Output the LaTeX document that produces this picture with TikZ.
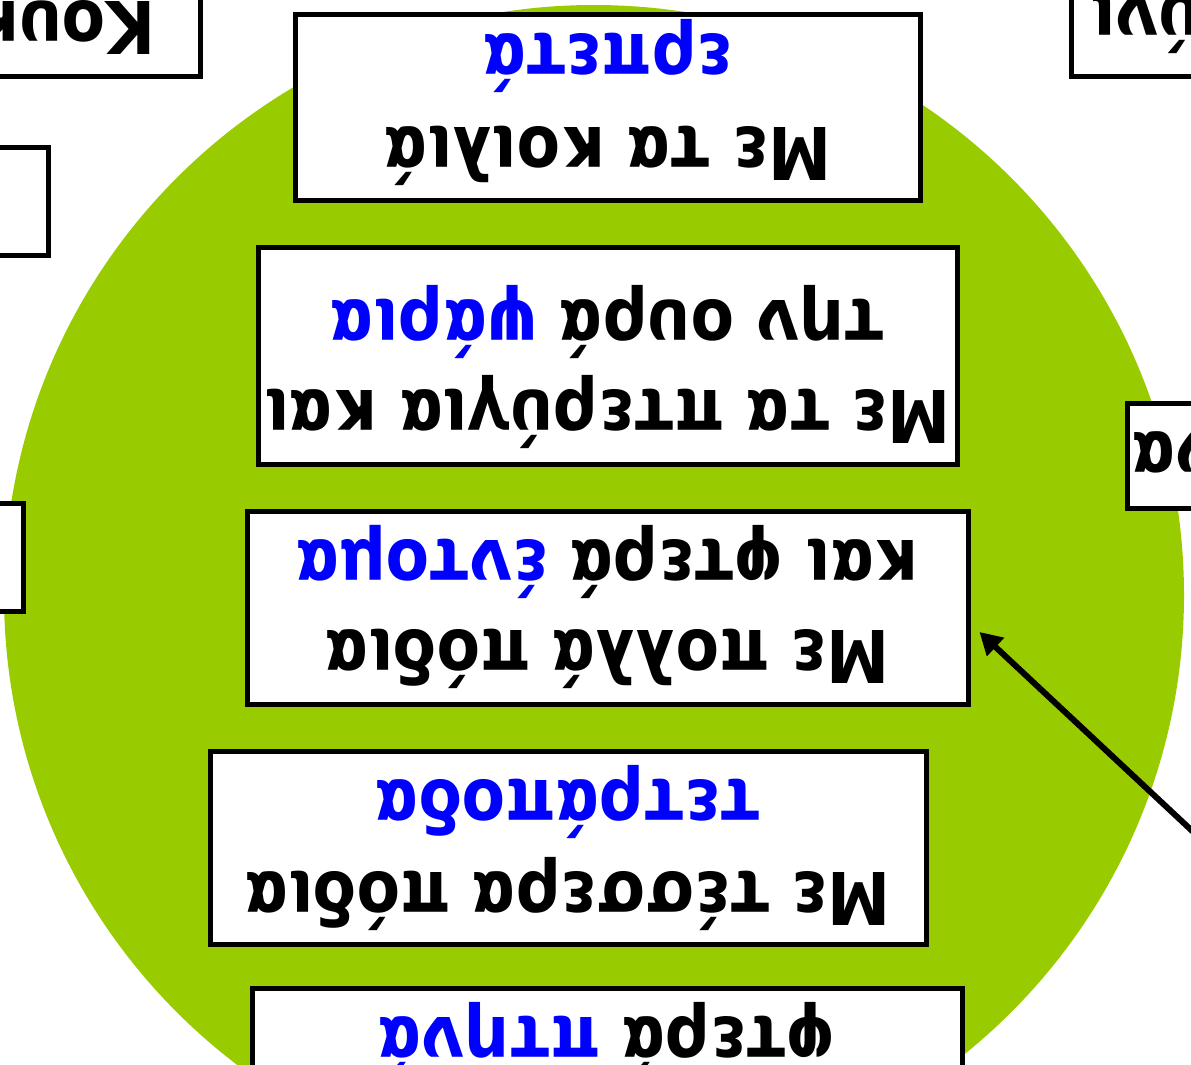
\documentclass[tikz,border=0pt]{standalone}
\usepackage{fontspec}
\newfontfamily\cardfont[FakeStretch=0.87]{DejaVu Sans}
\usetikzlibrary{arrows.meta}
\definecolor{leaf}{HTML}{99CC00}
\newcommand{\taxon}[1]{\textcolor{blue}{#1}}
\tikzset{
    card/.style={draw=black,line width=5pt,fill=white,inner sep=0pt,outer sep=0pt},
    words/.style={rotate=180,anchor=base,inner sep=0pt,outer sep=0pt,
        font=\cardfont\bfseries\fontsize{72.7}{92}\selectfont},
    pointer/.style={line width=6pt,-{Triangle[length=22pt,width=24pt]}}
}
\begin{document}
\begin{tikzpicture}[x=1pt,y=-1pt]
    \useasboundingbox (0,0) rectangle (1191,1065);
    \clip (0,0) rectangle (1191,1065);
    \fill[leaf] (594,595) circle[radius=590pt];
    % boxes cut by the edges
    \node[card,anchor=south east,minimum width=300pt,minimum height=150pt] (owlbox) at (200,76.5) {};
    \node[card,anchor=south west,minimum width=300pt,minimum height=150pt] (pigbox) at (1071,76.5) {};
    \node[card,anchor=north west,minimum width=300pt,minimum height=105pt] (turtlebox) at (1127.5,403) {};
    \node[card,anchor=east,minimum width=200pt,minimum height=108pt] (leftbox) at (48,201) {};
    \node[card,anchor=east,minimum width=200pt,minimum height=108pt] (lowbox) at (23,557) {};
    \node[words,anchor=base west] (owl) at (155,2) {Κουκουβάγια};
    \node[words,anchor=base east] (pig) at (1091,-4) {Γουρούνι};
    \node[words,anchor=base east] (turtle) at (1132,432) {Χελώνα};
    % the five classes
    \node[card,minimum width=625pt,minimum height=185pt] (reptiles) at (607.5,107.5) {};
    \node[card,minimum width=699pt,minimum height=217pt] (fish) at (607.5,355.5) {};
    \node[card,minimum width=721pt,minimum height=193pt] (insects) at (607.5,607.5) {};
    \node[card,minimum width=716pt,minimum height=193pt] (quadrupeds) at (568,847.5) {};
    \node[card,minimum width=710pt,minimum height=193pt] (birds) at (607,1084.5) {};
    \node[words] (reptilesA) at (607.5,127) {Με τα κοιλιά};
    \node[words] (reptilesB) at (607.5,35) {\taxon{ερπετά}};
    \node[words] (fishA) at (607.5,390) {Με τα πτερύγια και};
    \node[words] (fishB) at (607.5,300) {την ουρά \taxon{ψάρια}};
    \node[words] (insectsA) at (607.5,630) {Με πολλά πόδια};
    \node[words] (insectsB) at (607.5,540) {και φτερά \taxon{έντομα}};
    \node[words] (quadrupedsA) at (568,872) {Με τέσσερα πόδια};
    \node[words] (quadrupedsB) at (568,780) {\taxon{τετράποδα}};
    \node[words] (birdsB) at (607,1017) {φτερά \taxon{πτηνά}};
    \coordinate (from) at (1250,885);
    \draw[pointer] (from) -- ([xshift=11.5pt,yshift=-24.5pt]insects.east);
\end{tikzpicture}
\end{document}
